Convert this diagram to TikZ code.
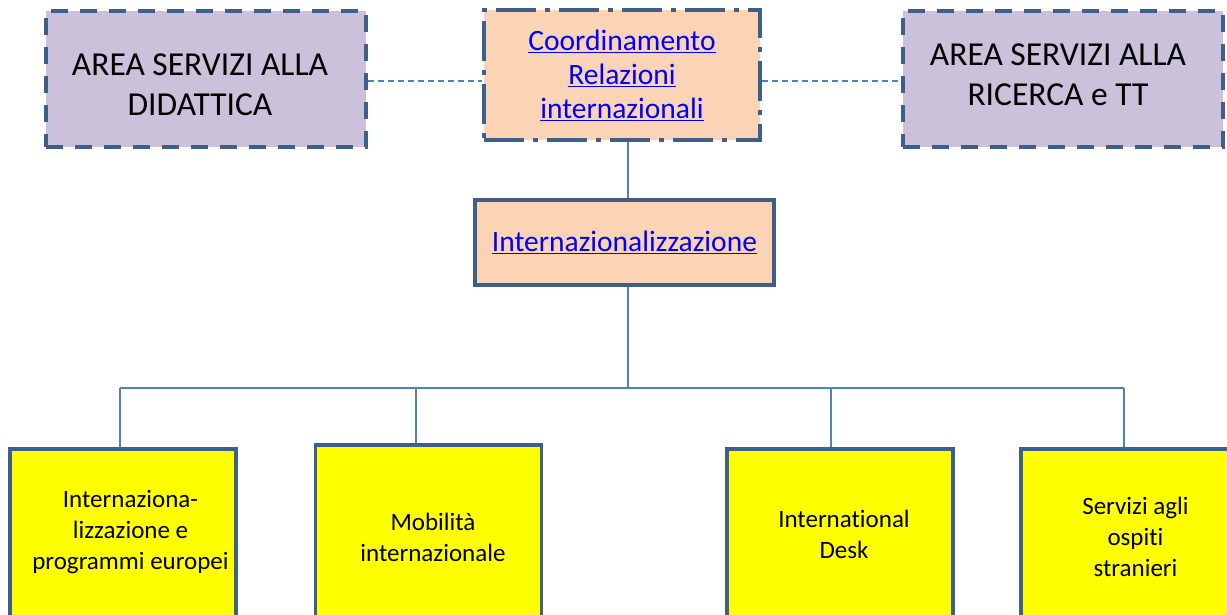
\documentclass[tikz,border=0pt]{standalone}
\usepackage{fontspec}
\setmainfont[Ligatures={NoCommon}]{Carlito}
\definecolor{bordc}{HTML}{3C5F8C}
\definecolor{linec}{HTML}{4F81BD}
\definecolor{lilac}{HTML}{CCC1DA}
\definecolor{peach}{HTML}{FAD4B5}
\definecolor{yel}{HTML}{FFFF00}
\definecolor{linkc}{HTML}{0000FF}
\newcommand{\lnk}[1]{\underline{#1}}
\begin{document}
\begin{tikzpicture}[x=1pt,y=-1pt,
  areabox/.style={draw=bordc,fill=lilac,line width=4pt,dash pattern=on 17pt off 12pt,minimum width=320pt,minimum height=136pt,inner sep=0pt},
  areatext/.style={align=center,font=\fontsize{33.5}{40}\selectfont,inner sep=0pt},
  coordbox/.style={draw=bordc,fill=peach,line width=4.5pt,dash pattern=on 40pt off 9pt on 5pt off 9pt,minimum width=276pt,minimum height=130pt,align=center,font=\fontsize{29.5}{34}\selectfont,text=linkc,inner sep=0pt},
  intbox/.style={draw=bordc,fill=peach,line width=4pt,minimum width=299pt,minimum height=85pt,align=center,font=\fontsize{29.5}{34}\selectfont,text=linkc,inner sep=0pt},
  unitbox/.style={draw=bordc,fill=yel,line width=3.5pt,minimum width=226pt,inner sep=0pt},
  unittext/.style={align=center,font=\fontsize{25}{31}\selectfont,inner sep=0pt},
  conn/.style={draw=linec,line width=1.2pt},
  dconn/.style={draw=linec,line width=1.1pt,dash pattern=on 6pt off 4pt}]
\useasboundingbox (0,0) rectangle (1227,614);
\clip (0,0) rectangle (1227,614);
\fill[white] (0,0) rectangle (1227,614);
% top row
\node[areabox] (did) at (206,79) {};
\node[areatext] (didt) at (200,85) {AREA SERVIZI ALLA\\DIDATTICA};
\node[coordbox] (coord) at (622,75) {\lnk{Coordinamento}\\\lnk{Relazioni}\\\lnk{internazionali}};
\node[areabox] (ric) at (1063,79) {};
\node[areatext] (rict) at (1058,75) {AREA SERVIZI ALLA\\RICERCA e TT};
\node[intbox] (int) at (624.5,242.5) {\lnk{Internazionalizzazione}};
% bottom row
\node[unitbox,minimum height=200pt] (u1) at (123,549) {};
\node[unittext] (u1t) at (130.5,532) {Internaziona-\\lizzazione e\\programmi europei};
\node[unitbox,minimum height=200pt] (u2) at (428.5,545) {};
\node[unittext] (u2t) at (433,537) {Mobilità\\internazionale};
\node[unitbox,minimum height=200pt] (u3) at (840,549) {};
\node[unittext] (u3t) at (844,534) {International\\Desk};
\node[unitbox,minimum height=200pt] (u4) at (1134,549) {};
\node[unittext] (u4t) at (1135.5,537) {Servizi agli\\ospiti\\stranieri};
% connectors
\coordinate (bus) at (628,388);
\draw[dconn] (did.east |- 0,81) -- (coord.west |- 0,81);
\draw[dconn] (coord.east |- 0,81) -- (ric.west |- 0,81);
\draw[conn] (coord.south -| bus) -- (int.north -| bus);
\draw[conn] (int.south -| bus) -- (bus);
\draw[conn] (120,388) -- (1124,388);
\draw[conn] (120,388) -- (u1.north -| 120,0);
\draw[conn] (416,388) -- (u2.north -| 416,0);
\draw[conn] (831,388) -- (u3.north -| 831,0);
\draw[conn] (1124,388) -- (u4.north -| 1124,0);
\end{tikzpicture}
\end{document}
